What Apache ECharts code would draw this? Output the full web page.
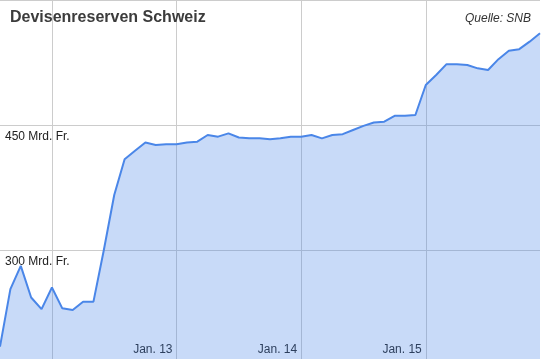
<!DOCTYPE html>
<html><head><meta charset="utf-8">
<script src="https://cdn.jsdelivr.net/npm/echarts@6/dist/echarts.min.js"></script>
<style>html,body{margin:0;padding:0;background:#fff}#c{width:541px;height:359px}</style>
</head><body><div id="c"></div>
<script>
var months = [
 '2011-08','2011-09','2011-10','2011-11','2011-12',
 '2012-01','2012-02','2012-03','2012-04','2012-05','2012-06','2012-07','2012-08','2012-09','2012-10','2012-11','2012-12',
 '2013-01','2013-02','2013-03','2013-04','2013-05','2013-06','2013-07','2013-08','2013-09','2013-10','2013-11','2013-12',
 '2014-01','2014-02','2014-03','2014-04','2014-05','2014-06','2014-07','2014-08','2014-09','2014-10','2014-11','2014-12',
 '2015-01','2015-02','2015-03','2015-04','2015-05','2015-06','2015-07','2015-08','2015-09','2015-10','2015-11','2015-12'
];
var reserves = [
 184, 253, 281, 243, 229,
 255, 230, 228, 238, 238, 300, 366, 409, 419, 429, 426, 427,
 427, 429, 430, 438, 436, 440, 435, 434, 434, 433, 434, 436,
 436, 438, 434, 438, 439, 444, 449, 453, 454, 461, 461, 462,
 498, 510, 523, 523, 522, 518, 516, 529, 539, 541, 550, 560
];
var gridMonths = ['2012-01','2013-01','2014-01','2015-01'];
var xTickLabels = {'2013-01':'Jan. 13','2014-01':'Jan. 14','2015-01':'Jan. 15'};
var yTickLabels = {300:'300 Mrd. Fr.', 450:'450 Mrd. Fr.'};
var titleText = 'Devisenreserven Schweiz';
var sourceText = 'Quelle: SNB';

var chart = echarts.init(document.getElementById('c'), null, {renderer:'canvas'});
var font = '"Liberation Sans", Arial, sans-serif';
chart.setOption({
  animation:false,
  backgroundColor:'#fff',
  textStyle:{fontFamily:font},
  title:[
    {text:titleText, left:10, top:10, padding:0, textStyle:{fontFamily:font, fontSize:16, fontWeight:'bold', color:'#3c3c3c'}},
    {text:sourceText, right:10, top:13, padding:0, textStyle:{fontFamily:font, fontSize:12, fontStyle:'italic', fontWeight:'normal', color:'#333'}}
  ],
  grid:{left:0, top:0, width:540, height:375, containLabel:false, outerBoundsMode:'none'},
  xAxis:{
    type:'category', boundaryGap:false, data:months,
    axisLine:{show:false}, axisTick:{show:false},
    splitLine:{show:true, interval:function(i, v){return gridMonths.indexOf(v) >= 0;}, lineStyle:{color:'#cccccc', width:1}},
    axisLabel:{
      inside:true, margin:19, interval:function(i, v){return !!xTickLabels[v];},
      formatter:function(v){return xTickLabels[v] || '';},
      align:'right', padding:[0,4,0,0], color:'#222', fontSize:12, fontFamily:font,
      textBorderColor:'#fff', textBorderWidth:2
    }
  },
  yAxis:{
    type:'value', min:150, max:600, interval:150,
    axisLine:{show:false}, axisTick:{show:false},
    splitLine:{show:true, lineStyle:{color:'#cccccc', width:1}},
    axisLabel:{
      inside:true, margin:5, verticalAlign:'top', padding:[6,0,0,0],
      formatter:function(v){return yTickLabels[v] || '';},
      color:'#222', fontSize:12, fontFamily:font
    }
  },
  series:[{
    type:'line', data:reserves, showSymbol:false, symbol:'none',
    lineStyle:{color:'#4a86e8', width:2},
    areaStyle:{color:'#4a86e8', opacity:0.3},
    z:2
  }]
});
</script></body></html>
